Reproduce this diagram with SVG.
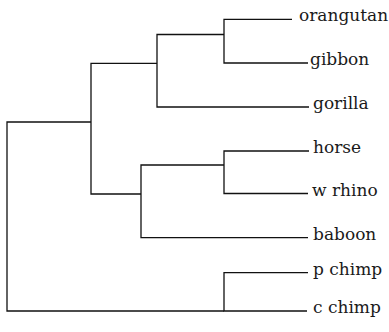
<svg xmlns="http://www.w3.org/2000/svg" width="389" height="332" viewBox="0 0 389 332">
<style>
.c{fill:none;stroke:#111;stroke-width:1.3}
text{font-family:'DejaVu Serif',serif;font-size:17px;fill:#1a1a1a}
</style>
<rect width="389" height="332" fill="#fff"/>
<g id="connectors">
<path class="c" d="M91,122 H7 V311 H224"/>
<path class="c" d="M157,63.3 H91 V194 H141"/>
<path class="c" d="M224,34.5 H157 V107 H309"/>
<path class="c" d="M292,19.3 H224 V63 H308"/>
<path class="c" d="M224,165 H141 V237.7 H308"/>
<path class="c" d="M309,151 H224 V193.5 H308"/>
<path class="c" d="M308,272.7 H224 V311 H307"/>
</g>
<g id="orangutan"><text x="299" y="21">orangutan</text></g>
<g id="gibbon"><text x="310" y="65">gibbon</text></g>
<g id="gorilla"><text x="313" y="109">gorilla</text></g>
<g id="horse"><text x="313" y="153">horse</text></g>
<g id="w-rhino"><text x="312" y="195.5">w rhino</text></g>
<g id="baboon"><text x="313" y="239.7">baboon</text></g>
<g id="p-chimp"><text x="313" y="274.7">p chimp</text></g>
<g id="c-chimp"><text x="313" y="313">c chimp</text></g>
</svg>
